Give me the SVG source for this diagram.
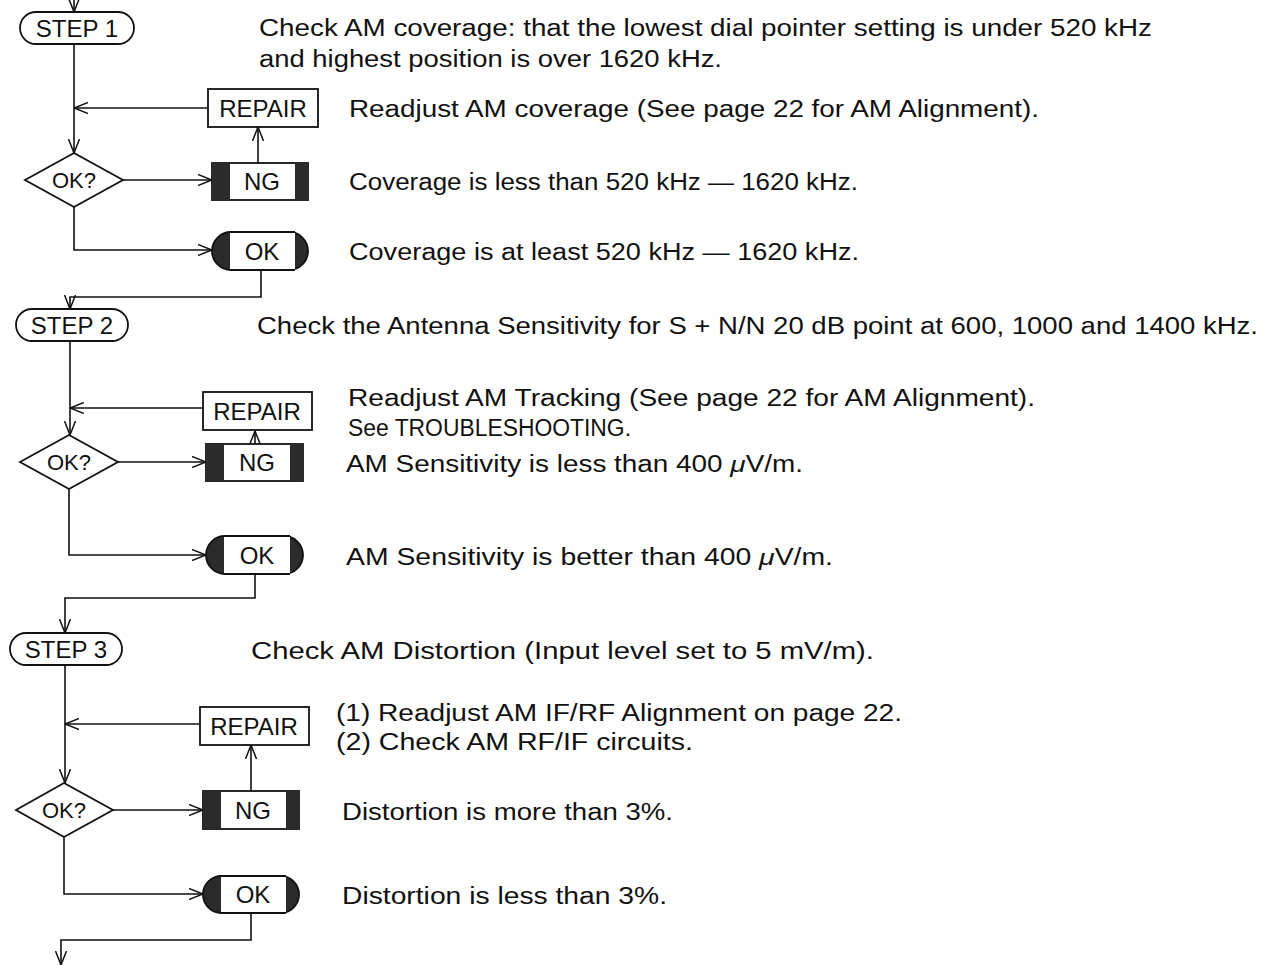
<svg xmlns="http://www.w3.org/2000/svg" width="1264" height="965" viewBox="0 0 1264 965">
<defs>
<marker id="ah" viewBox="0 0 14 12" refX="14" refY="6" markerWidth="14" markerHeight="12" markerUnits="userSpaceOnUse" orient="auto">
<path d="M0,0.5 L14,6 L0,11.5" fill="none" stroke="#111" stroke-width="1.5"/>
</marker>
<style>
.ln{fill:none;stroke:#111;stroke-width:1.6}
.box{fill:#fff;stroke:#111;stroke-width:1.8}
.dk{fill:#2b2b2b}
.lbl{font-family:"Liberation Sans",Arial,sans-serif;font-size:24px;fill:#111;text-anchor:middle}
.tx{font-family:"Liberation Sans",Arial,sans-serif;font-size:23px;fill:#111}
</style>
</defs>
<rect width="1264" height="965" fill="#fff"/>

<g id="connectors">
<path class="ln" d="M74,0 V12" marker-end="url(#ah)"/>
<path class="ln" d="M74,44 V153" marker-end="url(#ah)"/>
<path class="ln" d="M208,108 H74" marker-end="url(#ah)"/>
<path class="ln" d="M123,180 H212" marker-end="url(#ah)"/>
<path class="ln" d="M258,163 V127" marker-end="url(#ah)"/>
<path class="ln" d="M74,207 V250 H212" marker-end="url(#ah)"/>
<path class="ln" d="M261,270 V297 H70 V309" marker-end="url(#ah)"/>

<path class="ln" d="M70,341 V435" marker-end="url(#ah)"/>
<path class="ln" d="M203,408 H70" marker-end="url(#ah)"/>
<path class="ln" d="M118,462 H206" marker-end="url(#ah)"/>
<path class="ln" d="M255,444 V431" marker-end="url(#ah)"/>
<path class="ln" d="M69,489 V555 H206" marker-end="url(#ah)"/>
<path class="ln" d="M255,574 V598 H65 V633" marker-end="url(#ah)"/>

<path class="ln" d="M65,665 V783" marker-end="url(#ah)"/>
<path class="ln" d="M200,724 H65" marker-end="url(#ah)"/>
<path class="ln" d="M113,810 H203" marker-end="url(#ah)"/>
<path class="ln" d="M251,791 V745" marker-end="url(#ah)"/>
<path class="ln" d="M64,837 V894 H203" marker-end="url(#ah)"/>
<path class="ln" d="M251,913 V940 H61 V965" marker-end="url(#ah)"/>
</g>

<!-- STEP 1 -->
<g id="step1">
<rect class="box" x="20" y="12" width="114" height="32" rx="16"/>
<text class="lbl" x="77" y="37">STEP 1</text>
</g>
<g id="repair1">
<rect class="box" x="208" y="89" width="110" height="38"/>
<text class="lbl" x="263" y="117">REPAIR</text>
</g>
<g id="ok1q">
<polygon class="box" points="25,180 74,153 123,180 74,207"/>
<text class="lbl" x="74" y="188" style="font-size:22px">OK?</text>
</g>
<g id="ng1">
<rect class="box" x="212" y="163" width="96" height="37"/>
<rect class="dk" x="212" y="163" width="18" height="37"/>
<rect class="dk" x="295" y="163" width="13" height="37"/>
<text class="lbl" x="262" y="190">NG</text>
</g>
<g id="ok1">
<rect x="212" y="232" width="96" height="38" rx="19" fill="#2b2b2b" stroke="#111" stroke-width="1.8"/>
<rect x="230" y="233" width="65" height="36" fill="#fff"/>
<line class="ln" x1="230" y1="232" x2="295" y2="232" style="stroke-width:1.8"/>
<line class="ln" x1="230" y1="270" x2="295" y2="270" style="stroke-width:1.8"/>
<text class="lbl" x="262" y="260">OK</text>
</g>

<!-- STEP 2 -->
<g id="step2">
<rect class="box" x="16" y="309" width="112" height="32" rx="16"/>
<text class="lbl" x="72" y="334">STEP 2</text>
</g>
<g id="repair2">
<rect class="box" x="203" y="392" width="109" height="38"/>
<text class="lbl" x="257" y="420">REPAIR</text>
</g>
<g id="ok2q">
<polygon class="box" points="20,462 69,435 118,462 69,489"/>
<text class="lbl" x="69" y="470" style="font-size:22px">OK?</text>
</g>
<g id="ng2">
<rect class="box" x="206" y="444" width="97" height="37"/>
<rect class="dk" x="206" y="444" width="18" height="37"/>
<rect class="dk" x="290" y="444" width="13" height="37"/>
<text class="lbl" x="257" y="471">NG</text>
</g>
<g id="ok2">
<rect x="206" y="536" width="97" height="38" rx="19" fill="#2b2b2b" stroke="#111" stroke-width="1.8"/>
<rect x="224" y="537" width="66" height="36" fill="#fff"/>
<line class="ln" x1="224" y1="536" x2="290" y2="536" style="stroke-width:1.8"/>
<line class="ln" x1="224" y1="574" x2="290" y2="574" style="stroke-width:1.8"/>
<text class="lbl" x="257" y="564">OK</text>
</g>

<!-- STEP 3 -->
<g id="step3">
<rect class="box" x="10" y="633" width="112" height="32" rx="16"/>
<text class="lbl" x="66" y="658">STEP 3</text>
</g>
<g id="repair3">
<rect class="box" x="200" y="707" width="109" height="38"/>
<text class="lbl" x="254" y="735">REPAIR</text>
</g>
<g id="ok3q">
<polygon class="box" points="16,810 64,783 113,810 64,837"/>
<text class="lbl" x="64" y="818" style="font-size:22px">OK?</text>
</g>
<g id="ng3">
<rect class="box" x="203" y="791" width="96" height="38"/>
<rect class="dk" x="203" y="791" width="18" height="38"/>
<rect class="dk" x="286" y="791" width="13" height="38"/>
<text class="lbl" x="253" y="819">NG</text>
</g>
<g id="ok3">
<rect x="203" y="876" width="96" height="37" rx="18.5" fill="#2b2b2b" stroke="#111" stroke-width="1.8"/>
<rect x="221" y="877" width="65" height="35" fill="#fff"/>
<line class="ln" x1="221" y1="876" x2="286" y2="876" style="stroke-width:1.8"/>
<line class="ln" x1="221" y1="913" x2="286" y2="913" style="stroke-width:1.8"/>
<text class="lbl" x="253" y="903">OK</text>
</g>

<!-- descriptions -->
<g id="texts">
<text class="tx" x="259" y="36" textLength="893" lengthAdjust="spacingAndGlyphs">Check AM coverage: that the lowest dial pointer setting is under 520 kHz</text>
<text class="tx" x="259" y="67" textLength="463" lengthAdjust="spacingAndGlyphs">and highest position is over 1620 kHz.</text>
<text class="tx" x="349" y="117" textLength="690" lengthAdjust="spacingAndGlyphs">Readjust AM coverage (See page 22 for AM Alignment).</text>
<text class="tx" x="349" y="190" textLength="509" lengthAdjust="spacingAndGlyphs">Coverage is less than 520 kHz — 1620 kHz.</text>
<text class="tx" x="349" y="260" textLength="510" lengthAdjust="spacingAndGlyphs">Coverage is at least 520 kHz — 1620 kHz.</text>

<text class="tx" x="257" y="334" textLength="1001" lengthAdjust="spacingAndGlyphs">Check the Antenna Sensitivity for S + N/N 20 dB point at 600, 1000 and 1400 kHz.</text>
<text class="tx" x="348" y="406" textLength="687" lengthAdjust="spacingAndGlyphs">Readjust AM Tracking (See page 22 for AM Alignment).</text>
<text class="tx" x="348" y="436" textLength="283" lengthAdjust="spacingAndGlyphs">See TROUBLESHOOTING.</text>
<text class="tx" x="346" y="472" textLength="457" lengthAdjust="spacingAndGlyphs">AM Sensitivity is less than 400 <tspan font-style="italic">μ</tspan>V/m.</text>
<text class="tx" x="346" y="565" textLength="487" lengthAdjust="spacingAndGlyphs">AM Sensitivity is better than 400 <tspan font-style="italic">μ</tspan>V/m.</text>

<text class="tx" x="251" y="659" textLength="623" lengthAdjust="spacingAndGlyphs">Check AM Distortion (Input level set to 5 mV/m).</text>
<text class="tx" x="336" y="721" textLength="566" lengthAdjust="spacingAndGlyphs">(1) Readjust AM IF/RF Alignment on page 22.</text>
<text class="tx" x="336" y="750" textLength="357" lengthAdjust="spacingAndGlyphs">(2) Check AM RF/IF circuits.</text>
<text class="tx" x="342" y="820" textLength="331" lengthAdjust="spacingAndGlyphs">Distortion is more than 3%.</text>
<text class="tx" x="342" y="904" textLength="325" lengthAdjust="spacingAndGlyphs">Distortion is less than 3%.</text>
</g>
</svg>
